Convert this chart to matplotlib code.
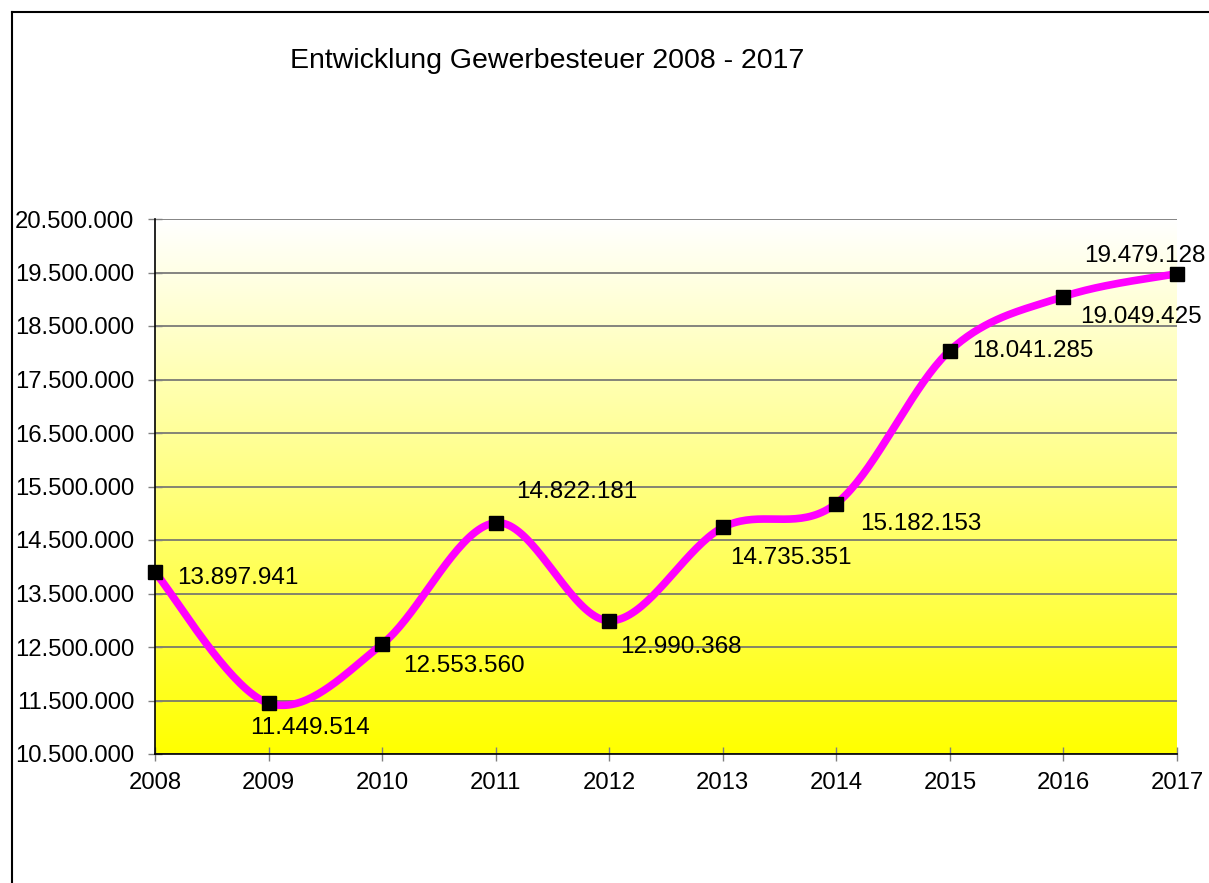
import numpy
from matplotlib import pyplot
from matplotlib.ticker import FuncFormatter

# Data
years = [2008, 2009, 2010, 2011, 2012, 2013, 2014, 2015, 2016, 2017]
values = [13897941, 11449514, 12553560, 14822181, 12990368,
          14735351, 15182153, 18041285, 19049425, 19479128]
# label offsets in points (dx, dy) and alignment
label_offsets = [(16, -4, "left"), (30, -18, "center"), (15, -16, "left"),
                 (15, 22, "left"), (8, -19, "left"), (5, -22, "left"),
                 (17, -15, "left"), (16, 0, "left"), (12, -15, "left"),
                 (-67, 13, "left")]

title = "Entwicklung Gewerbesteuer 2008 - 2017"
y_min, y_max = 10_500_000, 20_500_000


def de_fmt(v, pos=None):
    return f"{int(round(v)):,}".replace(",", ".")


def smooth(xs, ys, n=40):
    # Excel-like smoothed line: cubic bezier with catmull-rom tangents
    xs = numpy.asarray(xs, float)
    ys = numpy.asarray(ys, float)
    px, py = [], []
    for i in range(len(xs) - 1):
        x0, y0 = (xs[i - 1], ys[i - 1]) if i > 0 else (xs[i], ys[i])
        x3, y3 = (xs[i + 2], ys[i + 2]) if i + 2 < len(xs) else (xs[i + 1], ys[i + 1])
        x1, y1, x2, y2 = xs[i], ys[i], xs[i + 1], ys[i + 1]
        c1x, c1y = x1 + (x2 - x0) / 6, y1 + (y2 - y0) / 6
        c2x, c2y = x2 - (x3 - x1) / 6, y2 - (y3 - y1) / 6
        t = numpy.linspace(0, 1, n)
        bx = (1 - t) ** 3 * x1 + 3 * (1 - t) ** 2 * t * c1x + 3 * (1 - t) * t ** 2 * c2x + t ** 3 * x2
        by = (1 - t) ** 3 * y1 + 3 * (1 - t) ** 2 * t * c1y + 3 * (1 - t) * t ** 2 * c2y + t ** 3 * y2
        px.extend(bx)
        py.extend(by)
    return numpy.array(px), numpy.array(py)


pyplot.rcParams["font.family"] = ["Liberation Sans", "DejaVu Sans"]

fig = pyplot.figure(figsize=(12.09, 8.83), dpi=100)
ax = fig.add_axes([155 / 1209, 1 - 754 / 883, (1177 - 155) / 1209, (754 - 219) / 883])

# frame around chart (cut off at right/bottom as in original)
fig.add_artist(pyplot.Line2D([11.5 / 1209, 11.5 / 1209], [0, 1 - 12 / 883],
                             transform=fig.transFigure, color="black", lw=1.5))
fig.add_artist(pyplot.Line2D([11.5 / 1209, 1], [1 - 12 / 883, 1 - 12 / 883],
                             transform=fig.transFigure, color="black", lw=1.5))

# gradient background
grad = numpy.linspace(0, 1, 256).reshape(-1, 1)
cols = numpy.ones((256, 1, 3))
cols[:, 0, 2] = grad[:, 0]
ax.imshow(cols, extent=[years[0], years[-1], y_min, y_max], origin="lower",
          aspect="auto", zorder=0, interpolation="bicubic")

ax.set_xlim(years[0], years[-1])
ax.set_ylim(y_min, y_max)
ax.set_yticks(numpy.arange(y_min, y_max + 1, 1_000_000))
ax.set_xticks(years)
ax.yaxis.set_major_formatter(FuncFormatter(de_fmt))
ax.grid(axis="y", color="#707070", lw=1.2, zorder=1)
ax.set_axisbelow(True)

for s in ["top", "right"]:
    ax.spines[s].set_visible(False)
for s in ["left", "bottom"]:
    ax.spines[s].set_linewidth(1.2)
ax.tick_params(axis="both", direction="inout", length=10, width=1, color="#808080",
               labelsize=17.2)
ax.tick_params(axis="y", pad=10)
ax.tick_params(axis="x", pad=8)

sx, sy = smooth(years, values)
ax.plot(sx, sy, color="#FF00FF", lw=5.5, solid_capstyle="round", zorder=3, clip_on=False)
ax.plot(years, values, ls="none", marker="s", ms=10, color="black", zorder=4, clip_on=False)

for x, v, (dx, dy, ha) in zip(years, values, label_offsets):
    ax.annotate(de_fmt(v), (x, v), xytext=(dx, dy), textcoords="offset points",
                ha=ha, va="center", fontsize=17.5, zorder=5, annotation_clip=False)

fig.text(290 / 1209, 1 - 61 / 883, title, ha="left", va="center", fontsize=20.5)

fig.savefig("out.png", dpi=100)
